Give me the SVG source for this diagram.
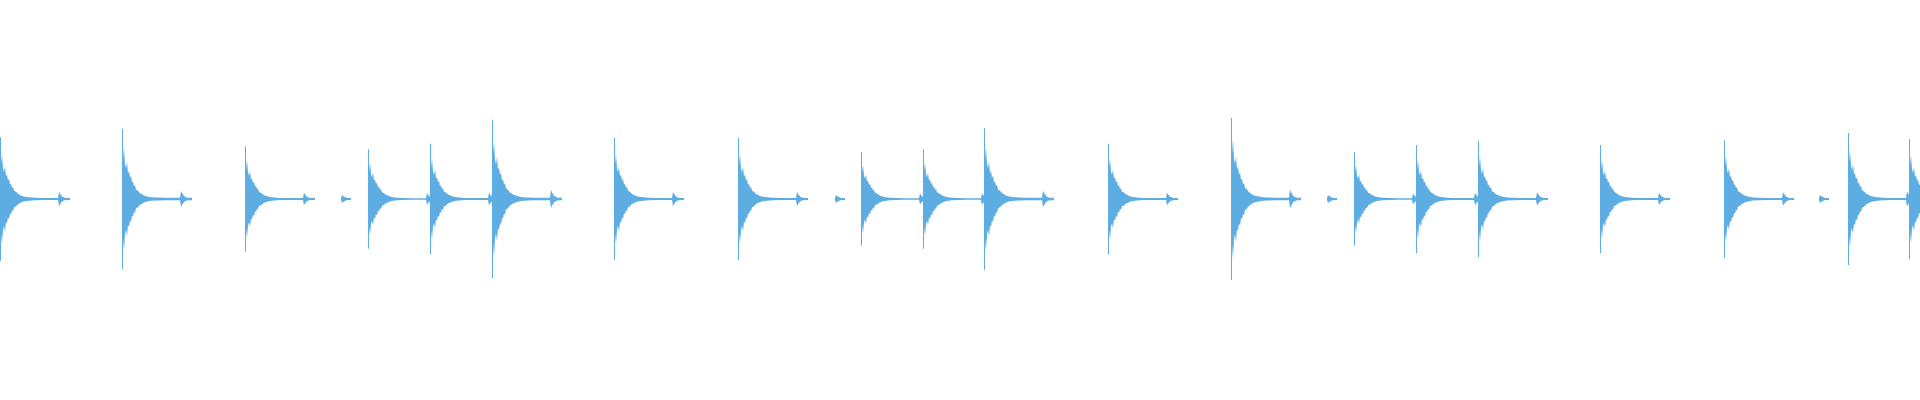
<svg xmlns="http://www.w3.org/2000/svg" width="1920" height="400" viewBox="0 0 1920 400">
<defs>
<style>.w{fill:#5dade2}</style>
<path id="h" class="w" d="M0,-60 L1,-60 L1,-34 L2,-44 L3,-30 L4,-26 L5,-32 L6,-22 L7,-24 L8,-18 L9,-20 L10,-14 L11,-15 L12,-11 L13,-12 L14,-8 L16,-7 L18,-5 L20,-4 L22,-3 L25,-2.2 L29,-1.6 L35,-1.2 L44,-1 L58,-1 L59,-7 L60,-5 L61,-4 L62,-2.5 L64,-1.5 L66,-1 L70,-1 L70,1 L66,1 L64,1.5 L62,2.5 L61,4 L60,5 L59,7 L58,1 L44,1 L35,1.2 L29,1.6 L25,2.2 L22,3 L20,4 L18,5 L16,7 L14,8 L13,12 L12,11 L11,15 L10,14 L9,20 L8,18 L7,24 L6,22 L5,32 L4,26 L3,30 L2,44 L1,34 L1,60 L0,60 Z"/>
<path id="b" class="w" d="M0,-1 L1,-4 L2,-3 L4,-2 L6,-1 L10,-1 L10,1 L6,1 L4,2 L2,3 L1,4 L0,1 Z"/>
</defs>
<rect width="1920" height="400" fill="#ffffff"/>
<g id="wave">
<use href="#h" transform="translate(0,199) scale(1,1.03)"/>
<use href="#h" transform="translate(122,199) scale(1,1.17)"/>
<use href="#h" transform="translate(245,199) scale(1,0.88)"/>
<use href="#b" transform="translate(341,199)"/>
<use href="#h" transform="translate(368,199) scale(1,0.83)"/>
<use href="#h" transform="translate(430,199) scale(1,0.92)"/>
<use href="#h" transform="translate(492,199) scale(1,1.32)"/>
<use href="#h" transform="translate(614,199) scale(1,1.02)"/>
<use href="#h" transform="translate(738,199) scale(1,1.02)"/>
<use href="#b" transform="translate(835,199)"/>
<use href="#h" transform="translate(861,199) scale(1,0.78)"/>
<use href="#h" transform="translate(923,199) scale(1,0.83)"/>
<use href="#h" transform="translate(984,199) scale(1,1.18)"/>
<use href="#h" transform="translate(1108,199) scale(1,0.92)"/>
<use href="#h" transform="translate(1231,199) scale(1,1.35)"/>
<use href="#b" transform="translate(1327,199)"/>
<use href="#h" transform="translate(1354,199) scale(1,0.78)"/>
<use href="#h" transform="translate(1416,199) scale(1,0.9)"/>
<use href="#h" transform="translate(1478,199) scale(1,0.97)"/>
<use href="#h" transform="translate(1600,199) scale(1,0.9)"/>
<use href="#h" transform="translate(1724,199) scale(1,0.98)"/>
<use href="#b" transform="translate(1819,199)"/>
<use href="#h" transform="translate(1848,199) scale(1,1.1)"/>
<use href="#h" transform="translate(1909,199) scale(1,1.0)"/>
</g>
</svg>
